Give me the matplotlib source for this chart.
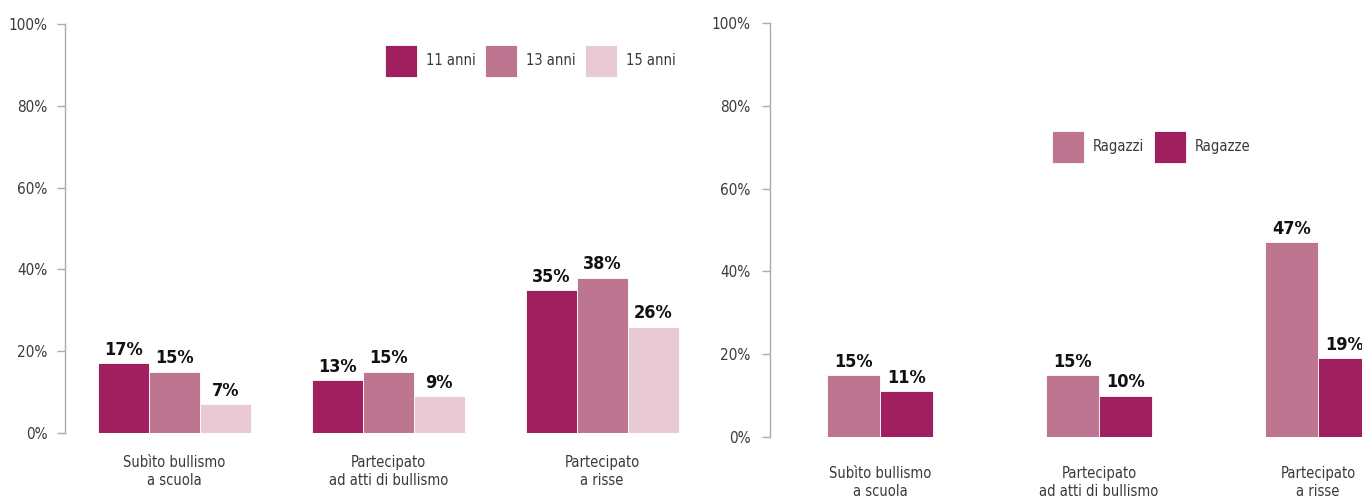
import matplotlib
matplotlib.use("Agg")
import matplotlib.pyplot as plt
from matplotlib.patches import Patch

plt.rcParams['font.family'] = ['DejaVu Sans']
plt.rcParams['font.stretch'] = 'condensed'

# ---------------------------------------------------------
# Data
# ---------------------------------------------------------
categories = ["Subìto bullismo\na scuola",
              "Partecipato\nad atti di bullismo",
              "Partecipato\na risse"]

age_labels = ["11 anni", "13 anni", "15 anni"]
age_11 = [17, 13, 35]
age_13 = [15, 15, 38]
age_15 = [7, 9, 26]

sex_labels = ["Ragazzi", "Ragazze"]
ragazzi = [15, 15, 47]
ragazze = [11, 10, 19]

yticks = [0, 20, 40, 60, 80, 100]
ytick_labels = ["0%", "20%", "40%", "60%", "80%", "100%"]

DARK = "#A01F5F"
MID = "#BD7590"
LIGHT = "#E8C9D4"
SPINE = "#ABABAB"
TXT = "#3A3A3A"

W, H = 1362, 499
fig = plt.figure(figsize=(W / 100, H / 100), dpi=100)


def style_axis(ax, tick_len, pad, label_pad):
    ax.set_ylim(0, 100)
    for s in ["top", "right", "bottom"]:
        ax.spines[s].set_visible(False)
    ax.spines["left"].set_color(SPINE)
    ax.spines["left"].set_linewidth(1.0)
    ax.set_yticks(yticks)
    ax.set_yticklabels(ytick_labels)
    ax.tick_params(axis="y", direction="out", length=tick_len, width=1.0,
                   color=SPINE, pad=pad, labelsize=11, labelcolor=TXT)
    ax.set_xticks(range(len(categories)))
    ax.set_xticklabels(categories, fontsize=10.5, color=TXT)
    ax.tick_params(axis="x", length=0, pad=label_pad)


def value_labels(ax, bars, vals):
    for b, v in zip(bars, vals):
        ax.annotate(f"{v}%", (b.get_x() + b.get_width() / 2, b.get_height()),
                    xytext=(0, 3), textcoords="offset points",
                    ha="center", va="bottom", fontsize=13, fontweight="bold",
                    color="#111111")


def legend_box(ax, handles, labels, ncol, x0, y0):
    ax.legend(handles, labels, ncol=ncol, frameon=False, loc="upper left",
              bbox_to_anchor=(x0 / W, (H - y0) / H), bbox_transform=fig.transFigure,
              fontsize=10.5, handlelength=2.2, handleheight=3.0,
              handletextpad=0.58, columnspacing=0.68, borderpad=0,
              borderaxespad=0, labelcolor=TXT)


# ---------------------------------------------------------
# Left panel: by age
# ---------------------------------------------------------
ax1 = fig.add_axes([65 / W, (H - 433) / H, (700 - 65) / W, (433 - 24) / H])
ax1.set_xlim(-0.512, 2.458)
bw = 0.2386
x = range(len(categories))
series = [(age_11, DARK), (age_13, MID), (age_15, LIGHT)]
for i, (vals, col) in enumerate(series):
    bars = ax1.bar([k + (i - 1) * bw for k in x], vals, width=bw, color=col,
                   edgecolor="white", linewidth=0.6)
    value_labels(ax1, bars, vals)
style_axis(ax1, tick_len=5.5, pad=7, label_pad=16)

handles = [Patch(facecolor=c, edgecolor="white", linewidth=0.6) for _, c in series]
legend_box(ax1, handles, age_labels, 3, 385, 45)

# ---------------------------------------------------------
# Right panel: by sex
# ---------------------------------------------------------
ax2 = fig.add_axes([770 / W, (H - 437) / H, (W - 770) / W, (437 - 23) / H])
ax2.set_xlim(-0.502, 2.201)
bw2 = 0.24
b1 = ax2.bar([k - bw2 / 2 for k in x], ragazzi, width=bw2, color=MID,
             edgecolor="white", linewidth=0.6)
b2 = ax2.bar([k + bw2 / 2 for k in x], ragazze, width=bw2, color=DARK,
             edgecolor="white", linewidth=0.6)
value_labels(ax2, b1, ragazzi)
value_labels(ax2, b2, ragazze)
style_axis(ax2, tick_len=6, pad=8, label_pad=21)

handles2 = [Patch(facecolor=MID, edgecolor="white", linewidth=0.6),
            Patch(facecolor=DARK, edgecolor="white", linewidth=0.6)]
legend_box(ax2, handles2, sex_labels, 2, 1052, 131)

fig.savefig("out.png", dpi=100)
